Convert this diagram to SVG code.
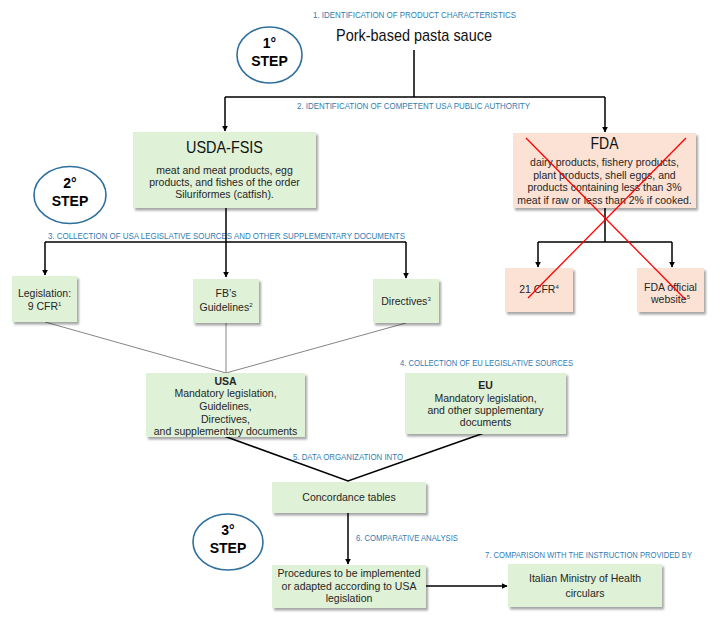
<svg xmlns="http://www.w3.org/2000/svg" width="724" height="621" viewBox="0 0 724 621">
<defs>
<filter id="sh" x="-10%" y="-10%" width="125%" height="135%">
<feDropShadow dx="2" dy="2.5" stdDeviation="1.2" flood-color="#000" flood-opacity="0.35"/>
</filter>
<marker id="ah" viewBox="0 0 10 10" refX="9" refY="5" markerWidth="6" markerHeight="6" markerUnits="userSpaceOnUse" orient="auto">
<path d="M0,0 L10,5 L0,10 z" fill="#000"/>
</marker>
<style>
.lbl{font-family:"Liberation Sans",sans-serif;font-size:9px;fill:#2f7db3}
.t{font-family:"Liberation Sans",Arial,sans-serif;font-size:10.5px;fill:#262626;text-anchor:middle}
.big{font-family:"Liberation Sans",Arial,sans-serif;font-size:17px;fill:#111;text-anchor:middle}
.step{font-family:"Liberation Sans",Arial,sans-serif;font-size:14px;font-weight:bold;fill:#000;text-anchor:middle}
.g{fill:#dff1d7;filter:url(#sh)}
.p{fill:#fbe2d5;filter:url(#sh)}
.ell{fill:#fff;stroke:#2e6f9c;stroke-width:1.6}
.c{stroke:#000;stroke-width:1.5;fill:none}
.ca{stroke:#000;stroke-width:1.5;fill:none;marker-end:url(#ah)}
.thin{stroke:#777;stroke-width:0.9;fill:none}
.x{stroke:#f00;stroke-width:1.3}
</style>
</defs>

<g id="labels">
<text class="lbl" transform="translate(313 17.5) scale(0.8 1)" textLength="253.75" lengthAdjust="spacingAndGlyphs">1. IDENTIFICATION OF PRODUCT CHARACTERISTICS</text>
<text class="lbl" transform="translate(297 108.5) scale(0.8 1)" textLength="291.25" lengthAdjust="spacingAndGlyphs">2. IDENTIFICATION OF COMPETENT USA PUBLIC AUTHORITY</text>
<text class="lbl" transform="translate(48 238.5) scale(0.8 1)" textLength="446.25" lengthAdjust="spacingAndGlyphs">3. COLLECTION OF USA LEGISLATIVE SOURCES AND OTHER SUPPLEMENTARY DOCUMENTS</text>
<text class="lbl" transform="translate(400 365.5) scale(0.8 1)" textLength="216.25" lengthAdjust="spacingAndGlyphs">4. COLLECTION OF EU LEGISLATIVE SOURCES</text>
<text class="lbl" transform="translate(293 459.5) scale(0.8 1)" textLength="137.5" lengthAdjust="spacingAndGlyphs">5. DATA ORGANIZATION INTO</text>
<text class="lbl" transform="translate(356 540.5) scale(0.8 1)" textLength="127.5" lengthAdjust="spacingAndGlyphs">6. COMPARATIVE ANALYSIS</text>
<text class="lbl" transform="translate(485 557.5) scale(0.8 1)" textLength="258.75" lengthAdjust="spacingAndGlyphs">7. COMPARISON WITH THE INSTRUCTION PROVIDED BY</text>
</g>

<g id="connectors">
<path class="c" d="M414,50 V97 M225,97 H605"/>
<path class="ca" d="M225,97 V131"/>
<path class="ca" d="M605,97 V132"/>
<path class="c" d="M45,242 H406"/>
<path class="ca" d="M226,208 V277"/>
<path class="ca" d="M45,242 V275"/>
<path class="ca" d="M406,242 V278"/>
<path class="c" d="M605,208 V242 M538,242 H672"/>
<path class="ca" d="M538,242 V267"/>
<path class="ca" d="M672,242 V267"/>
<path class="thin" d="M45,322 L226,373 M226,323 V373 M406,323 L226,373"/>
<path class="c" d="M224,436 L348,481 L484,433"/>
<path class="ca" d="M348,513 V564"/>
<path class="ca" d="M426,586 H507"/>
</g>

<g id="step1">
<ellipse class="ell" cx="269.5" cy="55" rx="32.5" ry="28"/>
<text class="step" x="269.5" y="48">1°</text>
<text class="step" x="269.5" y="66">STEP</text>
</g>
<g id="step2">
<ellipse class="ell" cx="70" cy="195" rx="36" ry="28.5"/>
<text class="step" x="70" y="188">2°</text>
<text class="step" x="70" y="206">STEP</text>
</g>
<g id="step3">
<ellipse class="ell" cx="228" cy="542" rx="35" ry="28"/>
<text class="step" x="228" y="535">3°</text>
<text class="step" x="228" y="553">STEP</text>
</g>

<g id="product">
<text class="big" x="414" y="41" textLength="156" lengthAdjust="spacingAndGlyphs">Pork-based pasta sauce</text>
</g>

<g id="usda">
<rect class="g" x="133" y="132" width="183" height="76"/>
<text class="big" x="224.5" y="153" textLength="77" lengthAdjust="spacingAndGlyphs">USDA-FSIS</text>
<text class="t" x="224.5" y="174">meat and meat products, egg</text>
<text class="t" x="224.5" y="186">products, and fishes of the order</text>
<text class="t" x="224.5" y="198">Siluriformes (catfish).</text>
</g>

<g id="fda">
<rect class="p" x="513" y="133" width="183" height="75"/>
<text class="big" x="604.5" y="149" textLength="28" lengthAdjust="spacingAndGlyphs">FDA</text>
<text class="t" x="604.5" y="166">dairy products, fishery products,</text>
<text class="t" x="604.5" y="179">plant products, shell eggs, and</text>
<text class="t" x="604.5" y="191">products containing less than 3%</text>
<text class="t" x="604.5" y="204">meat if raw or less than 2% if cooked.</text>
</g>

<g id="legislation">
<rect class="g" x="12" y="276" width="65" height="46"/>
<text class="t" x="44.5" y="297">Legislation:</text>
<text class="t" x="44.5" y="310">9 CFR<tspan font-size="6" dy="-4">1</tspan></text>
</g>

<g id="guidelines">
<rect class="g" x="193" y="279" width="66" height="44"/>
<text class="t" x="226" y="297">FB’s</text>
<text class="t" x="226" y="311">Guidelines<tspan font-size="6" dy="-4">2</tspan></text>
</g>

<g id="directives">
<rect class="g" x="373" y="279" width="66" height="44"/>
<text class="t" x="406" y="305">Directives<tspan font-size="6" dy="-4">3</tspan></text>
</g>

<g id="cfr21">
<rect class="p" x="505" y="268" width="68" height="44"/>
<text class="t" x="539" y="293">21 CFR<tspan font-size="6" dy="-4">4</tspan></text>
</g>

<g id="fdaweb">
<rect class="p" x="637" y="268" width="67" height="44"/>
<text class="t" x="670.5" y="291">FDA official</text>
<text class="t" x="670.5" y="303">website<tspan font-size="6" dy="-4">5</tspan></text>
</g>

<g id="usa">
<rect class="g" x="146" y="373" width="159" height="64"/>
<text class="t" x="225.5" y="385" font-weight="bold">USA</text>
<text class="t" x="225.5" y="397">Mandatory legislation,</text>
<text class="t" x="225.5" y="410">Guidelines,</text>
<text class="t" x="225.5" y="423">Directives,</text>
<text class="t" x="225.5" y="435">and supplementary documents</text>
</g>

<g id="eu">
<rect class="g" x="405" y="373" width="161" height="61"/>
<text class="t" x="485.5" y="389" font-weight="bold">EU</text>
<text class="t" x="485.5" y="402">Mandatory legislation,</text>
<text class="t" x="485.5" y="414">and other supplementary</text>
<text class="t" x="485.5" y="426">documents</text>
</g>

<g id="concordance">
<rect class="g" x="272" y="482" width="154" height="31"/>
<text class="t" x="349" y="501">Concordance tables</text>
</g>

<g id="procedures">
<rect class="g" x="272" y="565" width="154" height="43"/>
<text class="t" x="349" y="577">Procedures to be implemented</text>
<text class="t" x="349" y="590">or adapted according to USA</text>
<text class="t" x="349" y="602">legislation</text>
</g>

<g id="italian">
<rect class="g" x="508" y="564" width="154" height="43"/>
<text class="t" x="585" y="582">Italian Ministry of Health</text>
<text class="t" x="585" y="597">circulars</text>
</g>

<g id="cross">
<line class="x" x1="526" y1="138" x2="685" y2="299"/>
<line class="x" x1="686" y1="138" x2="528" y2="298"/>
</g>
</svg>
